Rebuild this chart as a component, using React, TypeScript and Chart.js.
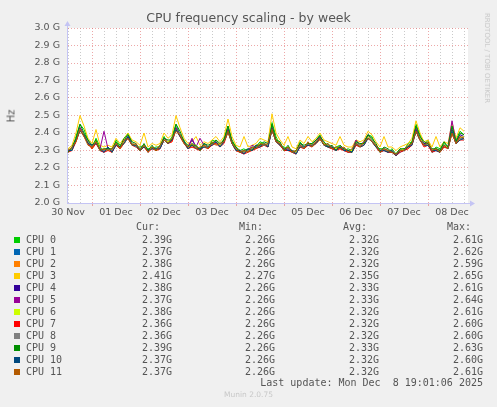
import React, { useEffect, useRef } from "react";
import { Chart, registerables } from "chart.js";

Chart.register(...registerables);

// ---------- data ----------
const seriesNames = ["CPU 0", "CPU 1", "CPU 2", "CPU 3", "CPU 4", "CPU 5", "CPU 6", "CPU 7", "CPU 8", "CPU 9", "CPU 10", "CPU 11"];
const seriesColors = ["#00cc00", "#0066b3", "#ff8000", "#ffcc00", "#330099", "#990099", "#ccff00", "#ff0000", "#808080", "#008f00", "#00487d", "#b35a00"];

// samples every 2 hours, first sample at 30 Nov 12:00 (hours counted from 30 Nov 00:00)
const sampleStartHour = 12;
const sampleStepHours = 2;

const cpu0 = [2.31,2.30,2.38,2.45,2.42,2.36,2.31,2.37,2.32,2.30,
  2.32,2.29,2.36,2.33,2.35,2.40,2.34,2.32,2.32,2.33,
  2.31,2.31,2.32,2.32,2.38,2.34,2.38,2.45,2.39,2.36,
  2.31,2.34,2.32,2.31,2.34,2.31,2.36,2.35,2.32,2.37,
  2.44,2.36,2.32,2.30,2.31,2.29,2.32,2.32,2.35,2.34,
  2.32,2.46,2.38,2.33,2.32,2.31,2.30,2.29,2.35,2.32,
  2.34,2.34,2.36,2.39,2.33,2.34,2.31,2.32,2.33,2.30,
  2.31,2.30,2.36,2.32,2.35,2.39,2.38,2.32,2.31,2.31,
  2.29,2.31,2.28,2.31,2.30,2.34,2.35,2.45,2.39,2.33,
  2.36,2.29,2.32,2.31,2.34,2.32,2.44,2.36,2.41,2.39];
const cpu1 = [2.29,2.31,2.36,2.43,2.39,2.34,2.32,2.35,2.30,2.29,
  2.31,2.30,2.34,2.32,2.35,2.37,2.34,2.32,2.30,2.33,
  2.29,2.32,2.31,2.32,2.36,2.34,2.36,2.43,2.39,2.35,
  2.31,2.33,2.32,2.30,2.33,2.32,2.34,2.35,2.32,2.35,
  2.42,2.34,2.30,2.29,2.28,2.30,2.31,2.32,2.33,2.34,
  2.32,2.43,2.36,2.33,2.30,2.31,2.29,2.28,2.33,2.31,
  2.34,2.32,2.35,2.37,2.33,2.32,2.31,2.30,2.32,2.30,
  2.29,2.29,2.34,2.32,2.34,2.37,2.36,2.32,2.29,2.30,
  2.29,2.29,2.27,2.29,2.30,2.32,2.34,2.42,2.36,2.33,
  2.34,2.29,2.30,2.29,2.33,2.31,2.41,2.34,2.37,2.37];
const cpu2 = [2.30,2.31,2.35,2.42,2.38,2.35,2.31,2.34,2.31,2.30,
  2.31,2.29,2.34,2.31,2.34,2.37,2.33,2.33,2.30,2.32,
  2.30,2.32,2.30,2.31,2.36,2.35,2.35,2.42,2.38,2.34,
  2.32,2.32,2.32,2.30,2.33,2.31,2.34,2.34,2.32,2.35,
  2.40,2.35,2.30,2.29,2.29,2.30,2.30,2.32,2.32,2.33,
  2.33,2.42,2.35,2.33,2.31,2.30,2.30,2.28,2.33,2.31,
  2.33,2.33,2.34,2.36,2.34,2.32,2.31,2.31,2.31,2.30,
  2.30,2.29,2.33,2.33,2.34,2.37,2.35,2.32,2.30,2.31,
  2.30,2.29,2.27,2.30,2.30,2.31,2.34,2.41,2.36,2.33,
  2.33,2.30,2.31,2.29,2.32,2.32,2.40,2.34,2.37,2.38];
const cpu3 = [2.31,2.33,2.40,2.50,2.44,2.37,2.34,2.42,2.33,2.32,
  2.33,2.32,2.37,2.34,2.37,2.40,2.36,2.35,2.33,2.40,
  2.32,2.34,2.33,2.34,2.40,2.37,2.39,2.50,2.43,2.37,
  2.34,2.35,2.38,2.33,2.35,2.34,2.36,2.38,2.35,2.38,
  2.48,2.38,2.33,2.32,2.38,2.32,2.33,2.34,2.37,2.36,
  2.35,2.51,2.40,2.36,2.33,2.38,2.32,2.31,2.36,2.34,
  2.38,2.35,2.37,2.40,2.36,2.35,2.34,2.33,2.38,2.33,
  2.32,2.32,2.36,2.35,2.36,2.41,2.39,2.35,2.32,2.38,
  2.32,2.32,2.30,2.32,2.33,2.34,2.37,2.47,2.40,2.35,
  2.36,2.32,2.38,2.32,2.35,2.34,2.46,2.37,2.43,2.41];
const cpu4 = [2.30,2.31,2.36,2.43,2.39,2.35,2.32,2.35,2.31,2.30,
  2.31,2.30,2.34,2.32,2.35,2.38,2.34,2.33,2.31,2.33,
  2.30,2.32,2.31,2.32,2.37,2.35,2.36,2.43,2.39,2.35,
  2.32,2.36,2.32,2.31,2.34,2.32,2.34,2.35,2.33,2.36,
  2.42,2.35,2.31,2.30,2.29,2.30,2.31,2.33,2.33,2.34,
  2.33,2.43,2.36,2.34,2.31,2.31,2.30,2.29,2.34,2.32,
  2.34,2.33,2.36,2.38,2.34,2.33,2.32,2.31,2.32,2.31,
  2.30,2.30,2.34,2.33,2.35,2.39,2.36,2.33,2.30,2.31,
  2.30,2.30,2.28,2.30,2.31,2.32,2.34,2.42,2.37,2.34,
  2.34,2.30,2.31,2.30,2.33,2.32,2.42,2.35,2.39,2.38];
const cpu5 = [2.30,2.31,2.36,2.43,2.39,2.35,2.32,2.35,2.31,2.41,
  2.31,2.30,2.34,2.32,2.35,2.38,2.34,2.33,2.31,2.33,
  2.30,2.32,2.31,2.32,2.37,2.35,2.36,2.43,2.39,2.35,
  2.32,2.37,2.32,2.37,2.33,2.32,2.34,2.35,2.33,2.35,
  2.42,2.35,2.31,2.30,2.29,2.30,2.33,2.32,2.33,2.34,
  2.33,2.43,2.36,2.34,2.31,2.31,2.30,2.29,2.33,2.32,
  2.34,2.33,2.35,2.38,2.34,2.33,2.32,2.31,2.32,2.31,
  2.30,2.30,2.36,2.33,2.34,2.38,2.36,2.33,2.30,2.31,
  2.30,2.30,2.28,2.30,2.31,2.32,2.34,2.43,2.37,2.33,
  2.34,2.30,2.31,2.30,2.33,2.32,2.47,2.35,2.38,2.37];
const cpu6 = [2.30,2.31,2.37,2.42,2.39,2.35,2.32,2.36,2.31,2.30,
  2.31,2.30,2.35,2.32,2.35,2.37,2.34,2.33,2.31,2.33,
  2.30,2.32,2.31,2.32,2.36,2.35,2.37,2.42,2.39,2.35,
  2.32,2.33,2.33,2.31,2.33,2.32,2.34,2.36,2.33,2.35,
  2.41,2.35,2.31,2.30,2.29,2.30,2.31,2.32,2.34,2.34,
  2.33,2.42,2.37,2.34,2.31,2.32,2.30,2.29,2.33,2.32,
  2.34,2.33,2.35,2.37,2.34,2.33,2.32,2.31,2.33,2.31,
  2.30,2.30,2.34,2.33,2.34,2.38,2.36,2.33,2.30,2.31,
  2.30,2.30,2.28,2.30,2.31,2.32,2.35,2.41,2.37,2.33,
  2.34,2.30,2.31,2.30,2.33,2.32,2.41,2.35,2.37,2.38];
const cpu7 = [2.29,2.30,2.35,2.42,2.38,2.34,2.31,2.34,2.30,2.29,
  2.30,2.29,2.33,2.31,2.34,2.37,2.33,2.32,2.30,2.32,
  2.29,2.31,2.30,2.31,2.36,2.34,2.35,2.42,2.38,2.34,
  2.31,2.32,2.31,2.30,2.32,2.31,2.33,2.34,2.32,2.34,
  2.41,2.34,2.30,2.29,2.28,2.29,2.30,2.31,2.32,2.33,
  2.32,2.42,2.35,2.33,2.30,2.30,2.29,2.28,2.32,2.31,
  2.33,2.32,2.34,2.37,2.33,2.32,2.31,2.30,2.31,2.30,
  2.29,2.29,2.33,2.32,2.33,2.37,2.35,2.32,2.29,2.30,
  2.29,2.29,2.27,2.29,2.30,2.31,2.33,2.41,2.36,2.32,
  2.33,2.29,2.30,2.29,2.32,2.31,2.40,2.34,2.36,2.36];
const cpu8 = [2.30,2.31,2.36,2.42,2.38,2.35,2.32,2.35,2.30,2.30,
  2.31,2.30,2.34,2.32,2.34,2.37,2.34,2.32,2.31,2.33,
  2.30,2.31,2.31,2.32,2.36,2.34,2.36,2.42,2.39,2.34,
  2.32,2.33,2.32,2.31,2.32,2.32,2.34,2.35,2.32,2.35,
  2.41,2.34,2.31,2.30,2.29,2.30,2.31,2.32,2.33,2.33,
  2.33,2.42,2.36,2.33,2.31,2.31,2.30,2.28,2.33,2.32,
  2.34,2.32,2.35,2.37,2.33,2.33,2.32,2.30,2.32,2.31,
  2.30,2.29,2.34,2.33,2.34,2.37,2.36,2.32,2.30,2.31,
  2.30,2.30,2.28,2.30,2.30,2.32,2.34,2.41,2.36,2.33,
  2.34,2.30,2.31,2.30,2.33,2.31,2.41,2.35,2.37,2.36];
const cpu9 = [2.29,2.32,2.37,2.45,2.40,2.36,2.33,2.36,2.30,2.31,
  2.31,2.31,2.35,2.32,2.37,2.39,2.35,2.34,2.30,2.34,
  2.30,2.33,2.30,2.33,2.37,2.36,2.36,2.45,2.41,2.35,
  2.33,2.33,2.33,2.30,2.34,2.33,2.34,2.36,2.34,2.36,
  2.44,2.35,2.32,2.29,2.30,2.31,2.30,2.33,2.33,2.35,
  2.34,2.45,2.36,2.35,2.30,2.33,2.29,2.30,2.34,2.33,
  2.34,2.34,2.36,2.38,2.35,2.32,2.33,2.30,2.33,2.31,
  2.30,2.29,2.35,2.34,2.34,2.39,2.37,2.34,2.29,2.32,
  2.31,2.29,2.28,2.31,2.31,2.32,2.35,2.44,2.38,2.35,
  2.34,2.31,2.31,2.30,2.35,2.32,2.44,2.35,2.40,2.39];
const cpu10 = [2.30,2.30,2.36,2.41,2.39,2.34,2.33,2.34,2.31,2.29,
  2.32,2.29,2.33,2.32,2.34,2.38,2.33,2.33,2.30,2.32,
  2.30,2.31,2.31,2.31,2.36,2.34,2.36,2.42,2.38,2.35,
  2.31,2.33,2.31,2.31,2.32,2.32,2.33,2.35,2.32,2.35,
  2.41,2.34,2.30,2.30,2.28,2.31,2.30,2.32,2.32,2.34,
  2.32,2.42,2.35,2.33,2.31,2.30,2.30,2.28,2.32,2.32,
  2.33,2.33,2.34,2.37,2.33,2.32,2.32,2.30,2.32,2.30,
  2.30,2.29,2.34,2.32,2.33,2.37,2.35,2.32,2.30,2.30,
  2.29,2.30,2.27,2.30,2.30,2.32,2.33,2.41,2.36,2.33,
  2.33,2.30,2.30,2.29,2.33,2.31,2.41,2.34,2.36,2.37];
const cpu11 = [2.30,2.32,2.35,2.42,2.38,2.33,2.32,2.35,2.30,2.31,
  2.30,2.31,2.34,2.31,2.36,2.37,2.33,2.34,2.30,2.33,
  2.29,2.32,2.30,2.33,2.36,2.34,2.37,2.41,2.39,2.34,
  2.32,2.34,2.31,2.32,2.33,2.31,2.35,2.33,2.34,2.35,
  2.41,2.34,2.31,2.29,2.30,2.29,2.32,2.31,2.34,2.33,
  2.34,2.42,2.35,2.34,2.30,2.32,2.29,2.30,2.33,2.31,
  2.35,2.32,2.35,2.37,2.33,2.34,2.31,2.32,2.31,2.32,
  2.29,2.31,2.34,2.32,2.35,2.37,2.35,2.33,2.29,2.31,
  2.30,2.29,2.28,2.30,2.30,2.33,2.34,2.41,2.36,2.33,
  2.35,2.30,2.31,2.29,2.33,2.31,2.40,2.34,2.38,2.37];

const cpuSeries = [cpu0, cpu1, cpu2, cpu3, cpu4, cpu5, cpu6, cpu7, cpu8, cpu9, cpu10, cpu11];

const curValues = ["2.39G", "2.37G", "2.38G", "2.41G", "2.38G", "2.37G", "2.38G", "2.36G", "2.36G", "2.39G", "2.37G", "2.37G"];
const minValues = ["2.26G", "2.26G", "2.26G", "2.27G", "2.26G", "2.26G", "2.26G", "2.26G", "2.26G", "2.26G", "2.26G", "2.26G"];
const avgValues = ["2.32G", "2.32G", "2.32G", "2.35G", "2.33G", "2.33G", "2.32G", "2.32G", "2.32G", "2.33G", "2.32G", "2.32G"];
const maxValues = ["2.61G", "2.62G", "2.59G", "2.65G", "2.61G", "2.64G", "2.61G", "2.60G", "2.60G", "2.63G", "2.60G", "2.61G"];

const dayLabels = ["30 Nov", "01 Dec", "02 Dec", "03 Dec", "04 Dec", "05 Dec", "06 Dec", "07 Dec", "08 Dec"];
const yTickValues = [2.0, 2.1, 2.2, 2.3, 2.4, 2.5, 2.6, 2.7, 2.8, 2.9, 3.0];
const xMinHour = 11.5;
const xMaxHour = 212;

const titleText = "CPU frequency scaling - by week";
const yAxisTitle = "Hz";
const sideText = "RRDTOOL / TOBI OETIKER";
const lastUpdateText = "Last update: Mon Dec  8 19:01:06 2025";
const footerText = "Munin 2.0.75";

// ---------- styles ----------
const BG = "#f0f0f0";
const TEXT = "#555555";
const MAJOR = "rgba(225,110,110,0.6)";
const MINOR = "rgba(150,150,150,0.5)";
const AXIS = "#c4c4f4";

const xTickHours: number[] = [];
for (let h = Math.ceil(xMinHour / 6) * 6; h <= xMaxHour; h += 6) xTickHours.push(h);

function dayLabelFor(v: number): string {
  if ((v - 12) % 24 !== 0) return "";
  const k = (v - 12) / 24;
  return dayLabels[k] ?? "";
}

const bgPlugin = {
  id: "plotBg",
  beforeDraw(chart: any) {
    const { ctx, chartArea } = chart;
    ctx.save();
    ctx.fillStyle = "#ffffff";
    ctx.fillRect(chartArea.left, chartArea.top, chartArea.right - chartArea.left, chartArea.bottom - chartArea.top);
    ctx.restore();
  },
};

const arrowPlugin = {
  id: "axisArrows",
  afterDraw(chart: any) {
    const { ctx, chartArea } = chart;
    const l = Math.round(chartArea.left) + 0.5;
    const b = Math.round(chartArea.bottom) + 0.5;
    ctx.save();
    ctx.strokeStyle = AXIS;
    ctx.fillStyle = AXIS;
    ctx.lineWidth = 1;
    ctx.beginPath();
    ctx.moveTo(chartArea.right, b);
    ctx.lineTo(chartArea.right + 4, b);
    ctx.moveTo(l, chartArea.top);
    ctx.lineTo(l, chartArea.top - 3);
    ctx.stroke();
    ctx.beginPath();
    ctx.moveTo(chartArea.right + 7, b);
    ctx.lineTo(chartArea.right + 2, b - 3);
    ctx.lineTo(chartArea.right + 2, b + 3);
    ctx.closePath();
    ctx.fill();
    ctx.beginPath();
    ctx.moveTo(l, chartArea.top - 7);
    ctx.lineTo(l - 3, chartArea.top - 2);
    ctx.lineTo(l + 3, chartArea.top - 2);
    ctx.closePath();
    ctx.fill();
    ctx.restore();
  },
};

function FreqChart() {
  const ref = useRef<HTMLCanvasElement | null>(null);
  useEffect(() => {
    if (!ref.current) return;
    const datasets = cpuSeries.map((vals, i) => ({
      label: seriesNames[i],
      data: vals.map((v, j) => ({ x: sampleStartHour + j * sampleStepHours, y: v })),
      borderColor: seriesColors[i],
      backgroundColor: seriesColors[i],
      borderWidth: 1,
      pointRadius: 0,
      tension: 0,
      fill: false,
      order: 20 - i,
    }));
    const chart = new Chart(ref.current, {
      type: "line",
      data: { datasets },
      options: {
        responsive: false,
        animation: false,
        devicePixelRatio: 1,
        layout: { padding: { left: 0, top: 28, right: 29, bottom: 0 } },
        plugins: {
          legend: { display: false },
          title: { display: false },
          tooltip: { enabled: false },
        },
        scales: {
          x: {
            type: "linear",
            min: xMinHour,
            max: xMaxHour,
            afterBuildTicks: (axis: any) => {
              axis.ticks = xTickHours.map((v) => ({ value: v }));
            },
            afterFit: (axis: any) => {
              axis.height = 19;
            },
            ticks: {
              autoSkip: false,
              maxRotation: 0,
              minRotation: 0,
              padding: 1,
              color: TEXT,
              font: { family: "DejaVu Sans", size: 9.5 },
              callback: (v: any) => dayLabelFor(Number(v)),
            },
            grid: {
              color: (c: any) => (c.tick && c.tick.value % 24 === 0 ? MAJOR : MINOR),
              lineWidth: 1,
              drawTicks: true,
              tickLength: 3,
              tickColor: (c: any) => (c.tick && c.tick.value % 24 === 0 ? MAJOR : "rgba(0,0,0,0)"),
            },
            border: { display: true, color: AXIS, width: 1, dash: [1, 2] },
          },
          y: {
            type: "linear",
            min: 2.0,
            max: 3.0,
            afterBuildTicks: (axis: any) => {
              axis.ticks = yTickValues.map((v) => ({ value: v }));
            },
            afterFit: (axis: any) => {
              axis.width = 67;
            },
            ticks: {
              padding: 7,
              color: TEXT,
              font: { family: "DejaVu Sans", size: 9.5 },
              callback: (v: any) => `${Number(v).toFixed(1)} G`,
            },
            grid: { color: MAJOR, lineWidth: 1, drawTicks: false },
            border: { display: true, color: AXIS, width: 1, dash: [1, 2] },
          },
        },
      } as any,
      plugins: [bgPlugin, arrowPlugin],
    });
    return () => chart.destroy();
  }, []);
  return <canvas ref={ref} width={497} height={222} style={{ position: "absolute", left: 0, top: 0, display: "block" }} />;
}

const mono = "'DejaVu Sans Mono', monospace";
const sans = "'DejaVu Sans', sans-serif";

function Legend() {
  const rowTop = (k: number) => 234 + 12 * k;
  const cols = [
    { head: "Cur:", headLeft: 136, right: 172, vals: curValues },
    { head: "Min:", headLeft: 239, right: 275, vals: minValues },
    { head: "Avg:", headLeft: 343, right: 379, vals: avgValues },
    { head: "Max:", headLeft: 447, right: 483, vals: maxValues },
  ];
  const base: React.CSSProperties = {
    position: "absolute",
    fontFamily: mono,
    fontSize: 10,
    lineHeight: "12px",
    height: 12,
    color: TEXT,
    whiteSpace: "pre",
  };
  return (
    <>
      {cols.map((c) => (
        <div key={c.head} style={{ ...base, left: c.headLeft, top: 221 }}>{c.head}</div>
      ))}
      {seriesNames.map((name, k) => (
        <React.Fragment key={name}>
          <div style={{ position: "absolute", left: 14, top: rowTop(k) + 3, width: 6, height: 6, background: seriesColors[k] }} />
          <div style={{ ...base, left: 26, top: rowTop(k) }}>{name}</div>
          {cols.map((c) => (
            <div key={c.head} style={{ ...base, left: c.right - 60, width: 60, textAlign: "right", top: rowTop(k) }}>{c.vals[k]}</div>
          ))}
        </React.Fragment>
      ))}
      <div style={{ ...base, left: 183, width: 300, textAlign: "right", top: 377 }}>{lastUpdateText}</div>
    </>
  );
}

export default function App() {
  return (
    <div style={{ position: "fixed", left: 0, top: 0, width: 497, height: 407, background: BG, overflow: "hidden" }}>
      <FreqChart />
      <div style={{ position: "absolute", left: 0, width: 497, top: 10, textAlign: "center", fontFamily: sans, fontSize: 12.5, color: TEXT, whiteSpace: "nowrap" }}>{titleText}</div>
      <div style={{ position: "absolute", left: 11, top: 116, transform: "translate(-50%,-50%) rotate(-90deg)", fontFamily: sans, fontSize: 10, color: TEXT, whiteSpace: "nowrap" }}>{yAxisTitle}</div>
      <div style={{ position: "absolute", left: 487, top: 58, transform: "translate(-50%,-50%) rotate(90deg)", fontFamily: sans, fontSize: 7, color: "#c8c8c8", whiteSpace: "nowrap" }}>{sideText}</div>
      <Legend />
      <div style={{ position: "absolute", left: 0, width: 497, top: 390, textAlign: "center", fontFamily: sans, fontSize: 7.5, color: "#c8c8c8", whiteSpace: "nowrap" }}>{footerText}</div>
    </div>
  );
}
